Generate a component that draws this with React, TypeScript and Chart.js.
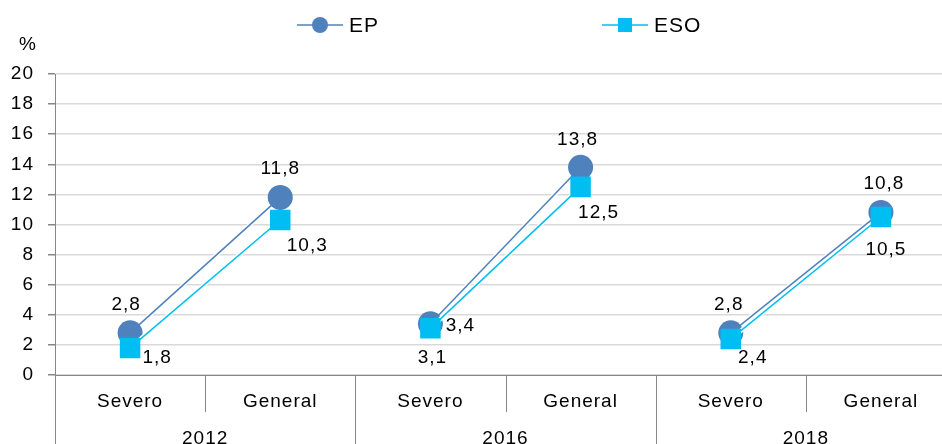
import { useEffect, useRef } from 'react';
import { Chart, registerables } from 'chart.js';

Chart.register(...registerables);

// ---- data ----
const categories = ['Severo', 'General', 'Severo', 'General', 'Severo', 'General'];
const years = ['2012', '2016', '2018'];
const epValues = [2.8, 11.8, 3.4, 13.8, 2.8, 10.8];
const esoValues = [1.8, 10.3, 3.1, 12.5, 2.4, 10.5];
const seriesNames = ['EP', 'ESO'];
const yMin = 0;
const yMax = 20;
const yStep = 2;
const yUnit = '%';

// ---- layout / style ----
const EP_COLOR = '#4F81BD';
const ESO_COLOR = '#00BEF2';
const AXIS_COLOR = '#868686';
const GRID_COLOR = '#D9D9D9';
const FONT = "'Liberation Sans', Arial, sans-serif";
const FS = 19;
// label offsets (dx, dy) in pixels relative to each marker
const epLabelOffsets = [[-4, -28], [0, -29], [30, 2], [-3, -28], [-2, -28], [3, -29]];
const esoLabelOffsets = [[27, 10], [27, 26], [2, 29], [18, 26], [22, 19], [5, 33]];
const legendItems = [
  { x: 297, marker: 'circle' },
  { x: 602, marker: 'rect' },
];

const fmt = (v: number) => v.toFixed(1).replace('.', ',');

export default function App() {
  const ref = useRef<HTMLCanvasElement>(null);

  useEffect(() => {
    if (!ref.current) return;
    const gap = (color: string) => (ctx: any) =>
      ctx.p0DataIndex % 2 === 1 ? 'rgba(0,0,0,0)' : color;

    const overlay = {
      id: 'overlay',
      beforeDraw(chart: any) {
        try { chart.ctx.letterSpacing = '1px'; } catch (e) { /* ignore */ }
      },
      afterDatasetsDraw(chart: any) {
        const ctx = chart.ctx;
        ctx.save();
        ctx.font = `${FS}px ${FONT}`;
        ctx.fillStyle = '#000';
        ctx.textAlign = 'center';
        ctx.textBaseline = 'middle';
        const put = (dsIndex: number, values: number[], offs: number[][]) => {
          const meta = chart.getDatasetMeta(dsIndex);
          meta.data.forEach((pt: any, i: number) => {
            ctx.fillText(fmt(values[i]), pt.x + offs[i][0], pt.y + offs[i][1]);
          });
        };
        put(2, epValues, epLabelOffsets);
        put(0, esoValues, esoLabelOffsets);
        ctx.restore();
      },
      afterDraw(chart: any) {
        const ctx = chart.ctx;
        const xs = chart.scales.x;
        const area = chart.chartArea;
        const H = chart.height;
        ctx.save();
        // separators
        ctx.strokeStyle = AXIS_COLOR;
        ctx.lineWidth = 1;
        const n = categories.length;
        const step = xs.getPixelForValue(1) - xs.getPixelForValue(0);
        for (let i = 0; i <= n; i++) {
          const x = Math.round(xs.getPixelForValue(0) - step / 2 + i * step) + 0.5;
          const long = i % 2 === 0;
          ctx.beginPath();
          ctx.moveTo(x, area.bottom);
          ctx.lineTo(x, long ? H : area.bottom + 37);
          ctx.stroke();
        }
        // years
        ctx.fillStyle = '#000';
        ctx.font = `${FS}px ${FONT}`;
        ctx.textAlign = 'center';
        ctx.textBaseline = 'middle';
        years.forEach((y, g) => {
          const cx = (xs.getPixelForValue(2 * g) + xs.getPixelForValue(2 * g + 1)) / 2;
          ctx.fillText(y, cx, area.bottom + 64);
        });
        // unit
        ctx.fillText(yUnit, 28, 45);
        // legend
        const colors = [EP_COLOR, ESO_COLOR];
        legendItems.forEach((it, k) => {
          const cy = 25;
          ctx.strokeStyle = colors[k];
          ctx.lineWidth = 1.5;
          ctx.beginPath();
          ctx.moveTo(it.x, cy);
          ctx.lineTo(it.x + 46, cy);
          ctx.stroke();
          ctx.fillStyle = colors[k];
          if (it.marker === 'circle') {
            ctx.beginPath();
            ctx.arc(it.x + 23, cy, 8, 0, Math.PI * 2);
            ctx.fill();
          } else {
            ctx.fillRect(it.x + 16, cy - 7, 14, 14);
          }
          ctx.fillStyle = '#000';
          ctx.font = `21px ${FONT}`;
          ctx.textAlign = 'left';
          ctx.fillText(seriesNames[k], it.x + 52, cy + 1);
        });
        ctx.restore();
      },
    };

    const chart = new Chart(ref.current, {
      type: 'line',
      data: {
        labels: categories,
        datasets: [
          {
            label: seriesNames[1],
            data: esoValues,
            borderColor: ESO_COLOR,
            backgroundColor: ESO_COLOR,
            pointBackgroundColor: ESO_COLOR,
            pointBorderColor: ESO_COLOR,
            borderWidth: 1.5,
            pointStyle: 'rect',
            pointRadius: 14.5,
            pointBorderWidth: 0,
            tension: 0,
            segment: { borderColor: gap(ESO_COLOR) },
            order: 0,
          },
          {
            label: '_esoHalo',
            data: esoValues,
            borderColor: '#fff',
            borderWidth: 4.5,
            pointRadius: 0,
            tension: 0,
            segment: { borderColor: gap('#fff') },
            order: 1,
          },
          {
            label: seriesNames[0],
            data: epValues,
            borderColor: EP_COLOR,
            backgroundColor: EP_COLOR,
            pointBackgroundColor: EP_COLOR,
            pointBorderColor: EP_COLOR,
            borderWidth: 1.5,
            pointStyle: 'circle',
            pointRadius: 12.5,
            pointBorderWidth: 0,
            tension: 0,
            segment: { borderColor: gap(EP_COLOR) },
            order: 2,
          },
          {
            label: '_epHalo',
            data: epValues,
            borderColor: '#fff',
            borderWidth: 4.5,
            pointRadius: 0,
            tension: 0,
            segment: { borderColor: gap('#fff') },
            order: 3,
          },
        ],
      },
      options: {
        responsive: false,
        maintainAspectRatio: false,
        animation: false,
        devicePixelRatio: 1,
        layout: { autoPadding: false, padding: { top: 74, right: 0, bottom: 0, left: 0 } },
        plugins: {
          legend: { display: false },
          tooltip: { enabled: false },
        },
        scales: {
          x: {
            type: 'category',
            offset: true,
            grid: { display: false, drawTicks: false },
            border: { display: true, color: AXIS_COLOR, width: 1 },
            ticks: {
              color: '#000',
              font: { family: FONT, size: FS },
              padding: 15,
              maxRotation: 0,
              autoSkip: false,
            },
            afterFit: (s: any) => {
              s.height = 69;
              s.paddingLeft = 0;
              s.paddingRight = 0;
            },
          },
          y: {
            min: yMin,
            max: yMax,
            ticks: {
              stepSize: yStep,
              color: '#000',
              font: { family: FONT, size: FS },
              padding: 14,
            },
            grid: {
              color: GRID_COLOR,
              lineWidth: 1.5,
              tickColor: AXIS_COLOR,
              tickLength: 7,
              drawTicks: true,
            },
            border: { display: true, color: AXIS_COLOR, width: 1 },
            afterFit: (s: any) => { s.width = 55; },
          },
        },
      },
      plugins: [overlay],
    } as any);

    return () => chart.destroy();
  }, []);

  return (
    <div style={{ position: 'fixed', left: 0, top: 0, width: 942, height: 444, overflow: 'hidden', background: '#fff' }}>
      <canvas ref={ref} width={956} height={444} style={{ display: 'block', width: 956, height: 444 }} />
    </div>
  );
}
